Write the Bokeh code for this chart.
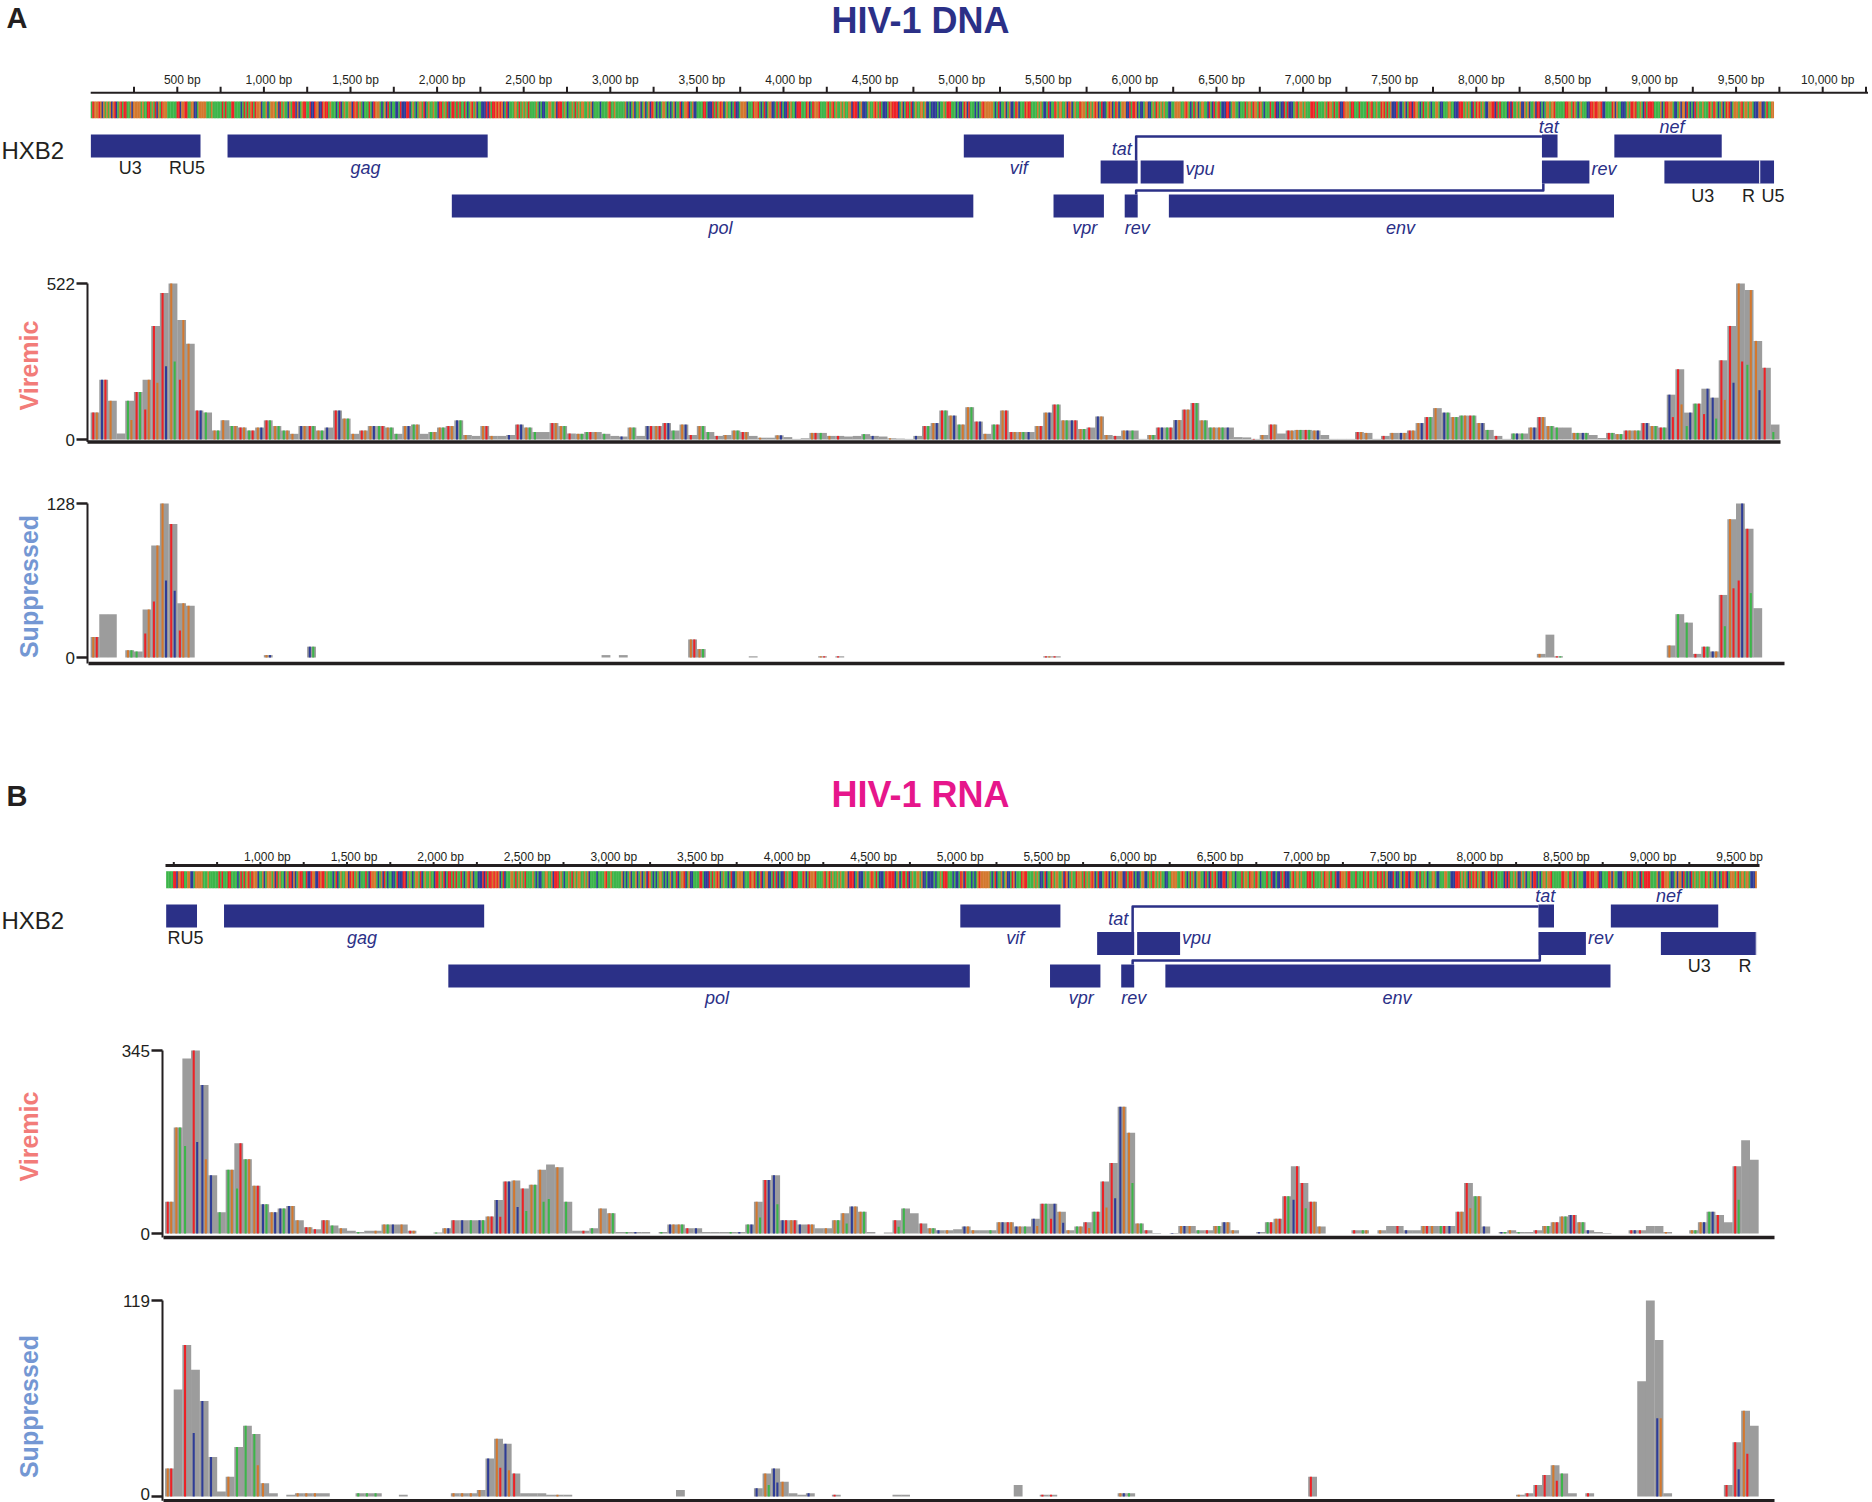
import math
from bokeh.plotting import figure
from bokeh.models import Range1d
from bokeh.layouts import column
from bokeh.embed import file_html
from bokeh.resources import INLINE
from bokeh.core.properties import value

# ============================ DATA ============================
HXB2_LENGTH = 9719
BIN = 50  # coverage bin size (bp)

gene_names = ["LTR5", "gag", "pol", "vif", "vpr", "tat1", "rev1", "vpu", "env",
              "tat2", "rev2", "nef", "LTR3", "U5_3"]
gene_row = [1, 1, 3, 1, 3, 2, 3, 2, 3, 1, 2, 1, 2, 2]
dna_gene_start = [1, 790, 2085, 5041, 5559, 5831, 5970, 6062, 6225, 8379, 8379, 8797, 9086, 9637]
dna_gene_end = [634, 2292, 5096, 5619, 5850, 6045, 6045, 6310, 8795, 8469, 8653, 9417, 9636, 9719]
rna_gene_start = [456, 790, 2085, 5041, 5559, 5831, 5970, 6062, 6225, 8379, 8379, 8797, 9086, 9637]
rna_gene_end = [634, 2292, 5096, 5619, 5850, 6045, 6045, 6310, 8795, 8469, 8653, 9417, 9636, 9641]
ltr5_U3, ltr5_R, ltr5_U5 = (1, 455), (456, 551), (552, 634)
ltr3_U3, ltr3_R, ltr3_U5 = (9086, 9540), (9541, 9636), (9637, 9719)

RULER_STEP = 250
dna_ruler_labels = [500, 1000, 1500, 2000, 2500, 3000, 3500, 4000, 4500, 5000,
                    5500, 6000, 6500, 7000, 7500, 8000, 8500, 9000, 9500, 10000]
rna_ruler_labels = [1000, 1500, 2000, 2500, 3000, 3500, 4000, 4500, 5000,
                    5500, 6000, 6500, 7000, 7500, 8000, 8500, 9000, 9500]
rna_span = (456, 9640)

sequence = (
    "ATGGGTGCGAGAGCGTCAGTATTAAGCGGGGGAGAATTAGATCGATGGGAAAAAATTCGGTTAAGGCCAGGGGGAAAGAAAAAATATAAATTAAAACAT"
    "ATAGTATGGGCAAGCAGGGAGCTAGAACGATTCGCAGTTAATCCTGGCCTGTTAGAAACATCAGAAGGCTGTAGACAAATACTGGGACAGCTACAACC"
    "ATCCCTTCAGACAGGATCAGAAGAACTTAGATCATTATATAATACAGTAGCAACCCTCTATTGTGTGCATCAAAGGATAGAGATAAAAGACACCAAG"
    "GAAGCTTTAGACAAGATAGAGGAAGAGCAAAACAAAAGTAAGAAAAAAGCACAGCAAGCAGCAGCTGACACAGGACACAGCAATCAGGTCAGCCAAAA"
    "TTACCCTATAGTGCAGAACATCCAGGGGCAAATGGTACATCAGGCCATATCACCTAGAACTTTAAATGCATGGGTAAAAGTAGTAGAAGAGAAGGCTT"
    "TCAGCCCAGAAGTGATACCCATGTTTTCAGCATTATCAGAAGGAGCCACCCCACAAGATTTAAACACCATGCTAAACACAGTGGGGGGACATCAAGCA"
    "GCCATGCAAATGTTAAAAGAGACCATCAATGAGGAAGCTGCAGAATGGGATAGAGTGCATCCAGTGCATGCAGGGCCTATTGCACCAGGCCAGATGAG"
    "AGAACCAAGGGGAAGTGACATAGCAGGAACTACTAGTACCCTTCAGGAACAAATAGGATGGATGACAAATAATCCACCTATCCCAGTAGGAGAAATTT"
    "ATAAAAGATGGATAATCCTGGGATTAAATAAAATAGTAAGAATGTATAGCCCTACCAGCATTCTGGACATAAGACAAGGACCAAAGGAACCCTTTAGA"
    "GACTATGTAGACCGGTTCTATAAAACTCTAAGAGCCGAGCAAGCTTCACAGGAGGTAAAAAATTGGATGACAGAAACCTTGTTGGTCCAAAATGCGAA"
    "CCCAGATTGTAAGACTATTTTAAAAGCATTGGGACCAGCGGCTACACTAGAAGAAATGATGACAGCATGTCAGGGAGTAGGAGGACCCGGCCATAAGG"
)

# ---- HIV-1 DNA coverage, 50-bp bins starting at 0 ----
dna_bin_start = 0
dna_viremic = [
    90, 200, 130, 20, 130, 159, 200, 380, 490, 522,
    400, 320, 97, 90, 30, 64, 45, 40, 30, 40,
    64, 45, 30, 19, 45, 45, 30, 40, 97, 70,
    19, 30, 45, 45, 40, 19, 45, 50, 19, 25,
    40, 45, 64, 15, 12, 45, 12, 12, 15, 50,
    40, 25, 25, 55, 45, 20, 19, 25, 25, 19,
    12, 10, 40, 12, 45, 45, 55, 30, 50, 15,
    45, 25, 12, 15, 30, 25, 12, 6, 6, 14,
    8, 2, 4, 22, 22, 12, 12, 10, 12, 18,
    12, 10, 4, 3, 2, 12, 45, 55, 97, 80,
    50, 108, 60, 19, 50, 97, 25, 25, 25, 45,
    90, 117, 64, 64, 35, 40, 77, 15, 12, 30,
    30, 2, 15, 40, 40, 65, 100, 122, 64, 40,
    40, 40, 8, 7, 2, 15, 50, 20, 30, 32,
    32, 30, 15, 2, 2, 2, 25, 22, 2, 12,
    22, 22, 30, 55, 75, 105, 90, 75, 80, 80,
    55, 32, 12, 2, 20, 20, 40, 75, 45, 40,
    40, 22, 22, 15, 5, 22, 18, 30, 30, 55,
    45, 40, 150, 235, 90, 120, 170, 140, 265, 380,
    522, 500, 330, 240, 50,
]
dna_viremic_mm = """
TG CT G. .. Ag TA tG Tg Tc Ga
tG G. TC A. GA G. AG TG AT GC
TA GA AG G. CG TA GA C. TC GA
G. TG GC AT GA A. GC AG .. AG
GA TG CA G. .. GT G. .. C. TC
GA A. .. TG GA T. GA AT G. A.
.. C. GA .. CT GT TC A. GC T.
GA A. T. G. GA TG .. G. .. GC
.. .. .. GT A. G. T. .. .. A.
C. .. G. .. .. C. TA GC TA GC
AG GA TC G. AT GT TG GA C. GT
GC TA GA CT GA T. CG G. T. GC
A. .. GA TC AT CG TG TA GA AG
GA C. .. .. T. G. TG .. TG GA
TA GC .. .. .. .. TG G. .. T.
G. CG TG GC TA G. CA GA AG TA
GC A. T. .. AC A. GC TG GA A.
.. GA CA .. .. TA GA TG GA TC
GA TA Ct Tg aC AT tC Ca Tg Tc
Gt aG Gc T. a.
""".split()
dna_suppressed = [
    17, 36, 36, 0, 6, 5, 40, 93, 128, 111,
    45, 43, 0, 0, 0, 0, 0, 0, 0, 0,
    2, 0, 0, 0, 0, 9, 0, 0, 0, 0,
    0, 0, 0, 0, 0, 0, 0, 0, 0, 0,
    0, 0, 0, 0, 0, 0, 0, 0, 0, 0,
    0, 0, 0, 0, 0, 0, 0, 0, 0, 2,
    0, 2, 0, 0, 0, 0, 0, 0, 0, 15,
    7, 0, 0, 0, 0, 0, 1, 0, 0, 0,
    0, 0, 0, 0, 1, 0, 1, 0, 0, 0,
    0, 0, 0, 0, 0, 0, 0, 0, 0, 0,
    0, 0, 0, 0, 0, 0, 0, 0, 0, 0,
    1, 1, 0, 0, 0, 0, 0, 0, 0, 0,
    0, 0, 0, 0, 0, 0, 0, 0, 0, 0,
    0, 0, 0, 0, 0, 0, 0, 0, 0, 0,
    0, 0, 0, 0, 0, 0, 0, 0, 0, 0,
    0, 0, 0, 0, 0, 0, 0, 0, 0, 0,
    0, 0, 0, 0, 0, 0, 0, 3, 19, 1,
    0, 0, 0, 0, 0, 0, 0, 0, 0, 0,
    0, 0, 10, 36, 29, 3, 9, 5, 52, 115,
    128, 107, 41, 0, 0,
]
dna_suppressed_mm = {0: "GT", 4: "GA", 5: "A.", 6: "tG", 7: "tG", 8: "Gc", 9: "Tc", 10: "tG",
                     11: "G.", 20: "GC", 25: "CA", 69: "GT", 70: "GA", 84: "GT", 86: "T.",
                     110: "TG", 111: "T.", 167: "G.", 169: "TA", 182: "G.", 183: "A.", 184: "A.",
                     185: "T.", 186: "TA", 187: "CG", 188: "Ta", 189: "Gt", 190: "tC", 191: "Ta"}

# ---- HIV-1 RNA coverage, 50-bp bins starting at 450 ----
rna_bin_start = 450
rna_viremic = [
    60, 200, 330, 345, 280, 110, 40, 120, 170, 140,
    90, 55, 40, 47, 52, 25, 12, 8, 25, 15,
    10, 5, 3, 5, 5, 17, 17, 17, 5, 0,
    0, 2, 10, 25, 25, 25, 25, 32, 63, 98,
    100, 85, 92, 120, 130, 125, 60, 5, 5, 10,
    47, 38, 3, 3, 3, 3, 0, 3, 17, 17,
    10, 10, 3, 3, 3, 3, 3, 17, 60, 101,
    110, 25, 25, 17, 17, 10, 10, 25, 38, 51,
    41, 3, 0, 2, 25, 47, 38, 19, 10, 6,
    6, 8, 13, 6, 6, 6, 21, 21, 13, 13,
    28, 56, 56, 41, 6, 13, 21, 41, 98, 133,
    239, 190, 19, 6, 1, 0, 1, 14, 14, 6,
    6, 14, 21, 6, 0, 0, 3, 21, 28, 70,
    127, 95, 60, 13, 0, 0, 0, 6, 6, 0,
    6, 14, 14, 6, 6, 14, 14, 14, 14, 41,
    95, 70, 13, 0, 3, 6, 3, 3, 6, 14,
    21, 32, 35, 21, 6, 3, 1, 0, 0, 6,
    6, 14, 14, 3, 0, 0, 6, 21, 41, 35,
    21, 127, 176, 139,
]
rna_viremic_mm = """
TG GA a. Tc Cg C. A. AG aT AG
GT CA GC CA CG G. TG T. TG A.
G. .. A. .. G. GA C. G. TG ..
.. A. GC T. C. A. CA GT Ct TC
Gc Ta GA Ga a. G. A. .. T. A.
G. GA .. A. C. .. .. A. CG GA
T. C. .. .. .. A. C. AC Ga TC
Ca CT GT C. TG .. G. GA Ga CG
GA .. .. .. Ta A. .. T. GA C.
G. .. CG G. .. A. GC TG CG A.
Cg TA tC Gc G. AG Tg AT Tg Tc
CG Ga GA T. .. .. C. GC G. A.
T. GA CG G. .. .. C. AT GT TA
cT Ta TG G. .. .. .. T. AG ..
G. .. T. C. .. GT G. AT C. TG
Tg AG C. .. CA G. A. .. T. GA
GT GA CT GA C. .. .. .. .. TC
T. .. .. G. .. .. GA GC AC T.
.. Ta .. ..
""".split()
rna_suppressed = [
    17, 65, 92, 77, 58, 24, 3, 12, 30, 43,
    38, 8, 2, 0, 1, 2, 2, 2, 2, 0,
    0, 0, 2, 2, 2, 0, 0, 1, 0, 0,
    0, 0, 0, 2, 2, 2, 4, 23, 35, 32,
    14, 2, 2, 2, 1, 1, 1, 0, 0, 0,
    0, 0, 0, 0, 0, 0, 0, 0, 0, 4,
    0, 0, 0, 0, 0, 0, 0, 0, 5, 14,
    17, 9, 2, 1, 2, 0, 0, 1, 0, 0,
    0, 0, 0, 0, 1, 1, 0, 0, 0, 0,
    0, 0, 0, 0, 0, 0, 0, 0, 7, 0,
    0, 1, 1, 0, 0, 0, 0, 0, 0, 0,
    2, 2, 0, 0, 0, 0, 0, 0, 0, 0,
    0, 0, 0, 0, 0, 0, 0, 0, 0, 0,
    0, 0, 12, 0, 0, 0, 0, 0, 0, 0,
    0, 0, 0, 0, 0, 0, 0, 0, 0, 0,
    0, 0, 0, 0, 0, 0, 1, 2, 7, 13,
    19, 14, 2, 0, 2, 0, 0, 0, 0, 0,
    70, 119, 95, 2, 0, 0, 0, 0, 0, 0,
    7, 33, 52, 43,
]
rna_suppressed_mm = {0: "GT", 2: "T.", 3: "c.", 4: "C.", 5: "C.", 7: "G.", 8: "A.", 9: "A.",
                     10: "Ag", 11: "G.", 15: "G.", 16: "G.", 17: "G.", 22: "A.", 23: "A.", 24: "A.",
                     33: "G.", 34: "G.", 35: "G.", 36: "G.", 37: "C.", 38: "Gt", 39: "Cg", 40: "T.",
                     45: "G.", 68: "C.", 69: "Ga", 70: "Cc", 71: "G.", 74: "C.", 77: "T.",
                     101: "T.", 102: "T.", 110: "GC", 111: "A.", 132: "T.", 156: "G.", 157: "T.",
                     158: "T.", 159: "T.", 160: "Gt", 161: "A.", 164: "T.", 172: "cg", 180: "T.",
                     181: "Tc", 182: "Gt"}

# ============================ STYLE ============================
FONT = value("Liberation Sans")
NAVY = "#2B3087"
MAGENTA = "#E6168B"
INK = "#231F20"
GREY = "#9C9C9C"
BASE_COLORS = {"A": "#3DB54A", "C": "#2E3C97", "G": "#D3782E", "T": "#ED2226"}
VIREMIC_COLOR = "#F27C79"
SUPPRESSED_COLOR = "#7497D3"
K = 0.1732      # pixels per bp
W = 1868        # figure width (page starts at x = 0)


def mid(a, b):
    return (a + b) / 2.0


def ymid(baseline, size):
    """vertical middle of a text line whose alphabetic baseline is given (page px)"""
    return baseline - 0.35 * size


def new_fig(h, xr, yr):
    p = figure(width=W, height=h, x_range=xr, y_range=yr,
               output_backend="svg", toolbar_location=None, tools="",
               x_axis_location=None, y_axis_location=None,
               min_border_left=0, min_border_right=0, min_border_top=0, min_border_bottom=0)
    p.outline_line_color = None
    p.grid.visible = False
    return p


def make_labels(gd, with_5ltr_u3, with_3ltr_u5):
    labs = []
    if with_5ltr_u3:
        labs.append(("U3", mid(*ltr5_U3), "below1", "center", "normal", 0))
        labs.append(("RU5", mid(ltr5_R[0], ltr5_U5[1]), "below1", "center", "normal", 2))
    else:
        labs.append(("RU5", mid(ltr5_R[0], ltr5_U5[1]), "below1", "center", "normal", 4))
    labs += [
        ("gag", mid(*gd["gag"]), "below1", "center", "italic", 8),
        ("vif", mid(*gd["vif"]), "below1", "center", "italic", 5),
        ("tat", mid(*gd["tat2"]), "above1", "center", "italic", -1),
        ("nef", mid(*gd["nef"]), "above1", "center", "italic", 4),
        ("tat", gd["tat1"][1], "above2", "right", "italic", -6),
        ("vpu", gd["vpu"][1], "right2", "left", "italic", 2),
        ("rev", gd["rev2"][1], "right2", "left", "italic", 2),
        ("U3", mid(*ltr3_U3), "below2", "center", "normal", -1),
        ("R", mid(*ltr3_R), "below2", "center", "normal", -3),
        ("pol", mid(*gd["pol"]), "below3", "center", "italic", 8),
        ("vpr", mid(*gd["vpr"]), "below3", "center", "italic", 6),
        ("rev", mid(*gd["rev1"]), "below3", "center", "italic", 6),
        ("env", mid(*gd["env"]), "below3", "center", "italic", 9),
    ]
    if with_3ltr_u5:
        labs.append(("U5", mid(*ltr3_U5), "below2", "center", "normal", 6))
    return labs


def genome_panel(c, starts, ends, labels, ruler_labels, ruler_from, ruler_to, seq_from, seq_to):
    x0 = c["x0"]

    def bp(px):
        return (px - x0) / K

    top, h = c["fig_top"], c["fig_h"]
    p = new_fig(h, Range1d(bp(0), bp(W)), Range1d(top + h, top))

    def txt(x, base, s, size, color=INK, style="normal", align="left", dx=0):
        p.text(x=x if isinstance(x, list) else [x],
               y=[ymid(base, size)] * (len(x) if isinstance(x, list) else 1),
               text=s if isinstance(s, list) else [s], x_offset=dx,
               text_font=FONT, text_font_style=style, text_font_size=f"{size}px",
               text_color=color, text_align=align, text_baseline="middle")

    # panel letter + title
    txt(bp(6), c["letter_base"], c["letter"], 29, style="bold")
    txt(bp(920), c["title_base"], c["title"], 36, color=c["title_color"], style="bold", align="center")

    # ruler
    rt = ruler_to if ruler_to is not None else bp(W)
    ry = c["ruler_y"]
    p.segment(x0=[ruler_from], x1=[rt], y0=[ry], y1=[ry], line_width=c["ruler_w"], line_color=INK)
    ticks = [t for t in range(RULER_STEP, int(rt) + RULER_STEP, RULER_STEP) if ruler_from < t < rt]
    p.segment(x0=ticks, x1=ticks, y0=[ry] * len(ticks), y1=[ry - c["tick_len"]] * len(ticks),
              line_width=2, line_color=INK)
    txt(list(ruler_labels), c["tick_label_base"], [f"{v:,} bp" for v in ruler_labels], 12,
        align="center", dx=c["tick_dx"])

    # reference sequence stripes
    n = len(sequence)
    w = HXB2_LENGTH / n
    L, R, C = [], [], []
    for i, ch in enumerate(sequence):
        a = i * w
        b = a + w * 1.2
        if b <= seq_from or a >= seq_to:
            continue
        L.append(max(a, seq_from))
        R.append(min(b, seq_to))
        C.append(BASE_COLORS[ch])
    p.quad(left=L, right=R, top=[c["seq_top"]] * len(L), bottom=[c["seq_bot"]] * len(L),
           fill_color=C, line_color=None)

    # HXB2 label
    txt(bp(1), c["hxb2_base"], "HXB2", 24)

    # genes
    rt_ = c["row_top"]
    rh = c["row_h"]
    tops = [rt_[r] for r in gene_row]
    p.quad(left=starts, right=ends, top=tops, bottom=[t + rh for t in tops], fill_color=NAVY, line_color=None)
    gd = {nm: (s, e) for nm, s, e in zip(gene_names, starts, ends)}
    sep = gd["LTR3"][1] + 0.5
    p.segment(x0=[sep], x1=[sep], y0=[rt_[2]], y1=[rt_[2] + rh], line_color="white", line_width=1)

    # splice connectors (tat, rev)
    t1e = gd["tat1"][1] - 9
    t2s = gd["tat2"][0]
    r1e = gd["rev1"][1] - 9
    r2s = gd["rev2"][0] + 8
    p.multi_line(xs=[[t1e, t1e, t2s], [r1e, r1e, r2s, r2s]],
                 ys=[[rt_[2], c["conn_up"], c["conn_up"]],
                     [rt_[3], c["conn_low"], c["conn_low"], rt_[2] + rh]],
                 line_color=NAVY, line_width=2.5, line_join="round")

    # gene labels
    for text, x, slot, align, style, dx in labels:
        txt(x, c["slot"][slot], text, 18, color=(NAVY if style == "italic" else INK),
            style=style, align=align, dx=dx)
    return p


def coverage_track(t, bin_start, values, mm):
    x0 = t["x0"]

    def bp(px):
        return (px - x0) / K

    ymax = max(values)
    upp = ymax / (t["zero_px"] - t["max_px"])

    def yv(px):
        return (t["zero_px"] - px) * upp

    fig_top, fig_h = t["fig_top"], t["fig_h"]
    p = new_fig(fig_h, Range1d(bp(0), bp(W)), Range1d(yv(fig_top + fig_h), yv(fig_top)))

    # grey coverage
    centers = [bin_start + BIN * i + BIN / 2 for i in range(len(values))]
    p.vbar(x=centers, top=values, bottom=0, width=BIN + 1, fill_color=GREY, line_color=None)

    # mismatch-coloured bars
    if isinstance(mm, dict):
        codes = [mm.get(i, "..") for i in range(len(values))]
    else:
        codes = list(mm) + [".."] * max(0, len(values) - len(mm))
    sx, sh, sc = [], [], []
    for i, code in enumerate(codes[:len(values)]):
        for k, ch in enumerate(code):
            if ch == "." or values[i] <= 0:
                continue
            sx.append(bin_start + BIN * i + (15 if k == 0 else 35))
            sh.append(values[i] * (1.0 if ch.isupper() else 0.5))
            sc.append(BASE_COLORS[ch.upper()])
    p.vbar(x=sx, top=sh, bottom=0, width=12, fill_color=sc, line_color=None)

    # baseline
    ybase = yv(t["base_px"])
    p.segment(x0=[bp(t["base_from"])], x1=[bp(t["base_to"])], y0=[ybase], y1=[ybase],
              line_width=3.5, line_color=INK)

    # y axis (line, two ticks, labels)
    ax = bp(t["axis_px"])
    p.segment(x0=[ax], x1=[ax], y0=[ybase], y1=[ymax], line_width=2, line_color=INK)
    p.segment(x0=[bp(t["axis_px"] - 11)] * 2, x1=[ax] * 2, y0=[0, ymax], y1=[0, ymax],
              line_width=2.5, line_color=INK)
    p.text(x=[bp(t["axis_px"] - 12.5)] * 2, y=[0, ymax], text=["0", str(ymax)],
           y_offset=[t.get("zero_dy", 0), 0], text_align="right", text_baseline="middle",
           text_font=FONT, text_font_size="17px", text_color=INK)

    # track name
    p.text(x=[bp(28.5)], y=[yv(t["label_px"])], text=[t["label"]], angle=math.pi / 2,
           text_align="center", text_baseline="middle", text_font=FONT, text_font_style="bold",
           text_font_size="25px", text_color=t["label_color"])
    return p


# ============================ LAYOUT ============================
A_cfg = dict(x0=90.2, fig_top=0, fig_h=248, letter="A", title="HIV-1 DNA", title_color=NAVY,
             letter_base=28, title_base=33,
             ruler_y=92.3, ruler_w=2.0, tick_len=6.0, tick_label_base=83.5, tick_dx=5,
             seq_top=101.0, seq_bot=117.7, hxb2_base=158.3,
             row_top={1: 134.0, 2: 160.0, 3: 194.0}, row_h=23.0, conn_up=136.0, conn_low=190.0,
             slot={"below1": 174.0, "above1": 132.5, "above2": 155.0, "right2": 175.0,
                   "below2": 201.7, "below3": 234.0})
B_cfg = dict(x0=86.7, fig_top=700, fig_h=340, letter="B", title="HIV-1 RNA", title_color=MAGENTA,
             letter_base=806, title_base=807,
             ruler_y=865.0, ruler_w=3.2, tick_len=3.5, tick_label_base=860.5, tick_dx=7,
             seq_top=870.7, seq_bot=887.7, hxb2_base=928.3,
             row_top={1: 904.0, 2: 931.5, 3: 964.0}, row_h=23.0, conn_up=906.0, conn_low=960.0,
             slot={"below1": 944.0, "above1": 901.5, "above2": 925.0, "right2": 944.0,
                   "below2": 971.7, "below3": 1004.0})

dna_gd = {nm: (s, e) for nm, s, e in zip(gene_names, dna_gene_start, dna_gene_end)}
rna_gd = {nm: (s, e) for nm, s, e in zip(gene_names, rna_gene_start, rna_gene_end)}

figA = genome_panel(A_cfg, dna_gene_start, dna_gene_end, make_labels(dna_gd, True, True),
                    dna_ruler_labels, 0, None, 0, HXB2_LENGTH)
figB = genome_panel(B_cfg, rna_gene_start, rna_gene_end, make_labels(rna_gd, False, False),
                    rna_ruler_labels, (165 - B_cfg["x0"]) / K, (1759 - B_cfg["x0"]) / K,
                    rna_span[0], rna_span[1])

trA_v = coverage_track(dict(x0=90.2, fig_top=248, fig_h=222, axis_px=87, max_px=283,
                            zero_px=439, base_px=441.5, base_from=87, base_to=1780,
                            label="Viremic", label_color=VIREMIC_COLOR, label_px=365),
                       dna_bin_start, dna_viremic, dna_viremic_mm)
trA_s = coverage_track(dict(x0=90.2, fig_top=470, fig_h=230, axis_px=87, max_px=503,
                            zero_px=657, base_px=663, base_from=88, base_to=1784,
                            label="Suppressed", label_color=SUPPRESSED_COLOR, label_px=586),
                       dna_bin_start, dna_suppressed, dna_suppressed_mm)
trB_v = coverage_track(dict(x0=86.7, fig_top=1040, fig_h=230, axis_px=162, max_px=1050,
                            zero_px=1233, base_px=1237, base_from=163, base_to=1774,
                            label="Viremic", label_color=VIREMIC_COLOR, label_px=1136),
                       rna_bin_start, rna_viremic, rna_viremic_mm)
trB_s = coverage_track(dict(x0=86.7, fig_top=1270, fig_h=232, axis_px=162, max_px=1300,
                            zero_px=1496, base_px=1500.3, base_from=163, base_to=1774,
                            label="Suppressed", label_color=SUPPRESSED_COLOR, label_px=1406,
                            zero_dy=-3),
                       rna_bin_start, rna_suppressed, rna_suppressed_mm)

p = column(figA, trA_v, trA_s, figB, trB_v, trB_s, spacing=0)
open("out.html", "w").write(file_html(p, INLINE))
